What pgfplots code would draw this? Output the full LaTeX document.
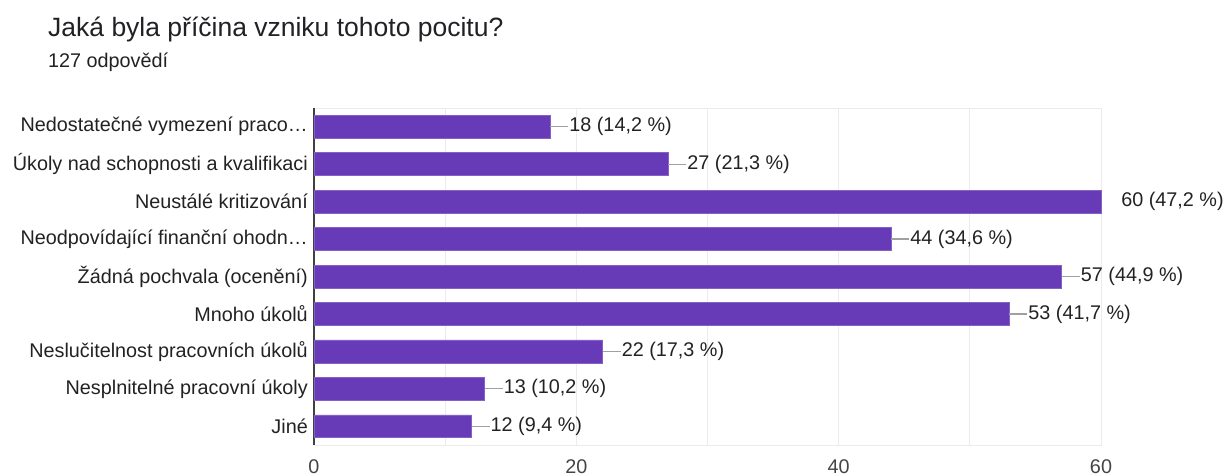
\documentclass[border=0pt]{standalone}
\usepackage{pgfplots}
\pgfplotsset{compat=1.18}
\usepackage{fontspec}
\setmainfont{Liberation Sans}
\definecolor{barpurple}{HTML}{673AB7}
\definecolor{titlecol}{HTML}{202124}
\definecolor{labcol}{HTML}{222222}
\definecolor{tickcol}{HTML}{444444}
\definecolor{gridcol}{HTML}{EBEBEB}
\definecolor{leadcol}{HTML}{A0A0A0}
\newcommand{\ld}{\textcolor{leadcol}{\rule[\dimexpr0.26em-0.6pt\relax]{18pt}{1.2pt}}\hspace{1pt}}
\newcommand{\nl}{\hspace{20pt}}
\newcommand{\lf}{\fontsize{19.8}{22}\selectfont}
\begin{document}
\begin{tikzpicture}
\useasboundingbox (0,0) rectangle (1226pt,-475pt);
\node[anchor=base west, inner sep=0, font=\fontsize{26.5}{30}\selectfont, text=titlecol] at (48pt,-36pt) {Jaká byla příčina vzniku tohoto pocitu?};
\node[anchor=base west, inner sep=0, font=\lf, text=titlecol] at (48pt,-67pt) {127 odpovědí};
\begin{axis}[
  at={(314pt,-108pt)}, anchor=north west,
  width=787pt, height=337pt, scale only axis,
  xbar, bar width=0.61,
  xmin=0, xmax=60, ymin=0.5, ymax=9.5, y dir=reverse,
  ytick={1,...,9},
  yticklabels={Nedostatečné vymezení praco…,Úkoly nad schopnosti a kvalifikaci,Neustálé kritizování,Neodpovídající finanční ohodn…,Žádná pochvala (ocenění),Mnoho úkolů,Neslučitelnost pracovních úkolů,Nesplnitelné pracovní úkoly,Jiné},
  xtick={0,20,40,60}, minor xtick={10,30,50},
  xmajorgrids, xminorgrids,
  major grid style={gridcol, line width=0.9pt},
  minor grid style={gridcol, line width=0.9pt},
  axis line style={gridcol, line width=1pt},
  major tick length=0pt, minor tick length=0pt,
  /pgf/number format/assume math mode=true,
  yticklabel style={font=\lf, text=labcol, inner sep=0pt, xshift=-6pt},
  xticklabel style={font=\lf, text=tickcol, inner sep=0pt, yshift=-14pt},
  extra x ticks={0}, extra x tick labels={},
  extra x tick style={grid=major, major grid style={draw=black!75, line width=1.3pt}},
  clip=false,
  nodes near coords, point meta=explicit symbolic,
  every node near coord/.append style={anchor=west, inner sep=0pt, font=\lf, text=labcol},
]
\addplot[fill=barpurple, draw=barpurple!80!white, line width=0.6pt] coordinates {
  (18,1) [\ld 18 (14,2 \%)]
  (27,2) [\ld 27 (21,3 \%)]
  (60,3) [\nl 60 (47,2 \%)]
  (44,4) [\ld 44 (34,6 \%)]
  (57,5) [\ld 57 (44,9 \%)]
  (53,6) [\ld 53 (41,7 \%)]
  (22,7) [\ld 22 (17,3 \%)]
  (13,8) [\ld 13 (10,2 \%)]
  (12,9) [\ld 12 (9,4 \%)]
};
\end{axis}
\end{tikzpicture}
\end{document}
